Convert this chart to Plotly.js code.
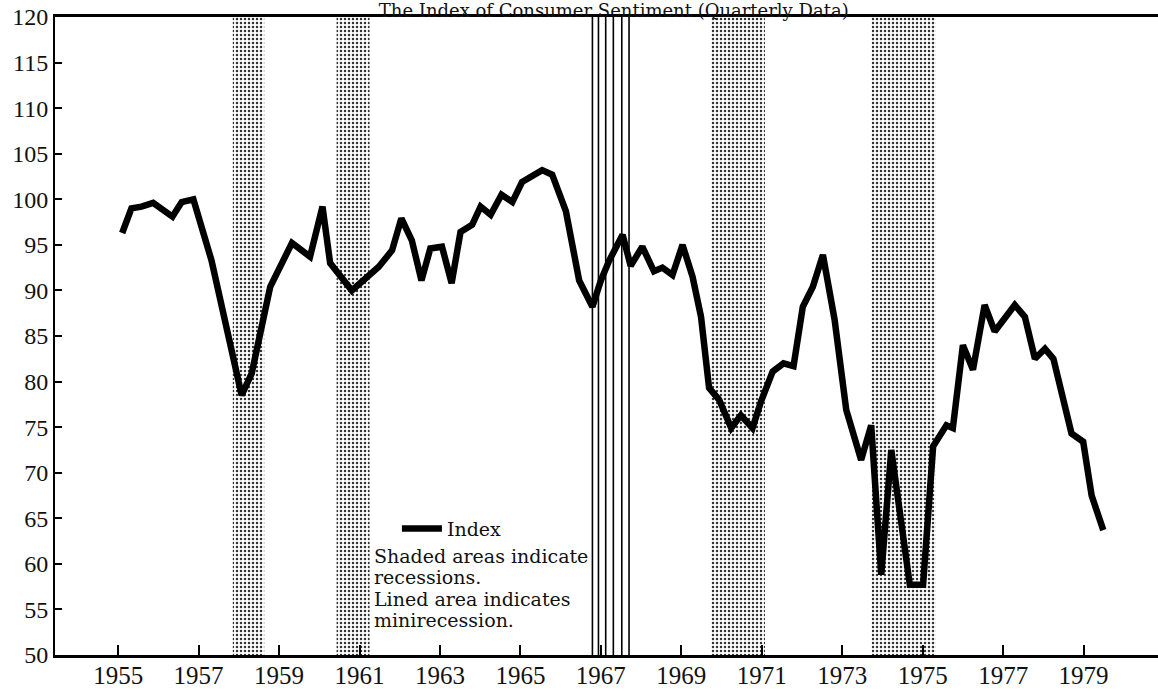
<!DOCTYPE html>
<html>
<head>
<meta charset="utf-8">
<script src="https://cdn.plot.ly/plotly-3.0.1.min.js"></script>
<style>html,body{margin:0;padding:0;background:#fff;}#chart{width:1158px;height:691px;}</style>
</head>
<body>
<div id="chart"></div>
<script>
const dates = [1955.10,1955.33,1955.58,1955.87,1956.35,1956.58,1956.87,1957.32,1958.07,1958.32,
  1958.78,1959.32,1959.77,1960.08,1960.27,1960.81,1961.48,1961.81,1962.04,1962.30,
  1962.54,1962.76,1963.05,1963.29,1963.51,1963.80,1964.01,1964.26,1964.53,1964.80,
  1965.04,1965.54,1965.79,1966.13,1966.46,1966.79,1967.00,1967.21,1967.54,1967.74,
  1968.03,1968.32,1968.53,1968.78,1969.03,1969.28,1969.49,1969.69,1969.94,1970.24,
  1970.48,1970.77,1970.98,1971.27,1971.54,1971.79,1972.02,1972.27,1972.52,1972.81,
  1973.10,1973.47,1973.72,1973.97,1974.22,1974.68,1975.01,1975.26,1975.59,1975.75,
  1976.00,1976.25,1976.54,1976.79,1977.29,1977.54,1977.79,1978.04,1978.25,1978.70,
  1978.99,1979.20,1979.49];
const values = [96.3,99.0,99.2,99.6,98.1,99.7,100.0,93.3,78.5,80.9,
  90.4,95.2,93.7,99.2,93.0,90.0,92.6,94.4,97.9,95.5,
  91.1,94.6,94.8,90.8,96.4,97.2,99.2,98.3,100.5,99.7,
  101.9,103.2,102.7,98.7,91.1,88.2,91.1,93.3,96.1,92.7,
  94.8,92.1,92.5,91.7,95.0,91.5,87.1,79.3,78.0,74.9,
  76.3,74.9,77.8,81.1,82.0,81.7,88.2,90.4,93.9,86.8,
  76.9,71.4,75.2,58.8,72.5,57.7,57.7,72.9,75.2,74.9,
  84.0,81.3,88.4,85.5,88.4,87.1,82.5,83.6,82.5,74.3,
  73.4,67.5,63.7];

// Recession periods (shaded) and the minirecession (lined)
const recessionStart = [1957.85, 1960.43, 1969.74, 1973.73];
const recessionEnd   = [1958.63, 1961.25, 1971.08, 1975.33];
const miniLines = [1966.79, 1966.94, 1967.12, 1967.31, 1967.52, 1967.70];

const tickYears = [1955,1957,1959,1961,1963,1965,1967,1969,1971,1973,1975,1977,1979];
const yTicks = [50,55,60,65,70,75,80,85,90,95,100,105,110,115,120];
const titleText = "The Index of Consumer Sentiment (Quarterly Data)";
const seriesName = "Index";
const noteLines = ["Shaded areas indicate", "recessions.", "Lined area indicates", "minirecession."];

const yMin = 50, yMax = 120;
const serif = "Liberation Serif, DejaVu Serif, serif";
const bookSerif = "DejaVu Serif, Liberation Serif, serif";

const traces = [];
recessionStart.forEach((s, i) => {
  const e = recessionEnd[i];
  traces.push({
    x: [s, e, e, s, s],
    y: [yMin, yMin, yMax, yMax, yMin],
    type: 'scatter', mode: 'lines', fill: 'toself',
    line: {width: 0, color: 'rgba(0,0,0,0)'},
    fillcolor: '#ffffff',
    fillpattern: {shape: '.', fgcolor: '#333', bgcolor: '#ffffff', size: 4, solidity: 0.3},
    showlegend: false, hoverinfo: 'skip'
  });
});
traces.push({
  x: dates, y: values, type: 'scatter', mode: 'lines', name: seriesName,
  line: {color: '#000', width: 6.5, shape: 'linear'},
  showlegend: true
});

const shapes = miniLines.map(v => ({
  type: 'line', xref: 'x', yref: 'paper', x0: v, x1: v, y0: 0, y1: 1,
  line: {color: '#000', width: 1.6}, layer: 'below'
}));

const annotations = noteLines.map((t, i) => ({
  text: t, xref: 'paper', yref: 'paper', x: 0.287, y: 0.155 - i * 0.0335,
  xanchor: 'left', yanchor: 'middle', showarrow: false,
  font: {family: bookSerif, size: 19, color: '#111'}
}));

const layout = {
  width: 1158, height: 691,
  margin: {l: 55, r: 0, t: 17, b: 36},
  paper_bgcolor: '#fff', plot_bgcolor: '#fff',
  title: {text: titleText, font: {family: bookSerif, size: 18, color: '#111'},
          xref: 'container', x: 0.530, xanchor: 'center',
          yref: 'container', y: 0.975, yanchor: 'bottom', pad: {t: 0, b: 0}},
  xaxis: {range: [1953.43, 1980.85], tickvals: tickYears, ticktext: tickYears.map(String),
          ticks: 'inside', ticklen: 10, tickwidth: 2, tickcolor: '#000',
          showline: true, linecolor: '#000', linewidth: 3, mirror: true,
          showgrid: false, zeroline: false, ticklabelstandoff: -4,
          tickfont: {family: serif, size: 25, color: '#111'}},
  yaxis: {range: [yMin, yMax], tickvals: yTicks,
          ticks: 'inside', ticklen: 7, tickwidth: 2, tickcolor: '#000',
          showline: true, linecolor: '#000', linewidth: 2,
          showgrid: false, zeroline: false,
          tickfont: {family: serif, size: 24, color: '#111'}},
  legend: {x: 0.310, y: 0.198, xanchor: 'left', yanchor: 'middle',
           bgcolor: 'rgba(0,0,0,0)', font: {family: bookSerif, size: 19, color: '#111'},
           itemwidth: 40},
  shapes: shapes,
  annotations: annotations,
  showlegend: true
};

Plotly.newPlot('chart', traces, layout, {displayModeBar: false, staticPlot: true});
</script>
</body>
</html>
